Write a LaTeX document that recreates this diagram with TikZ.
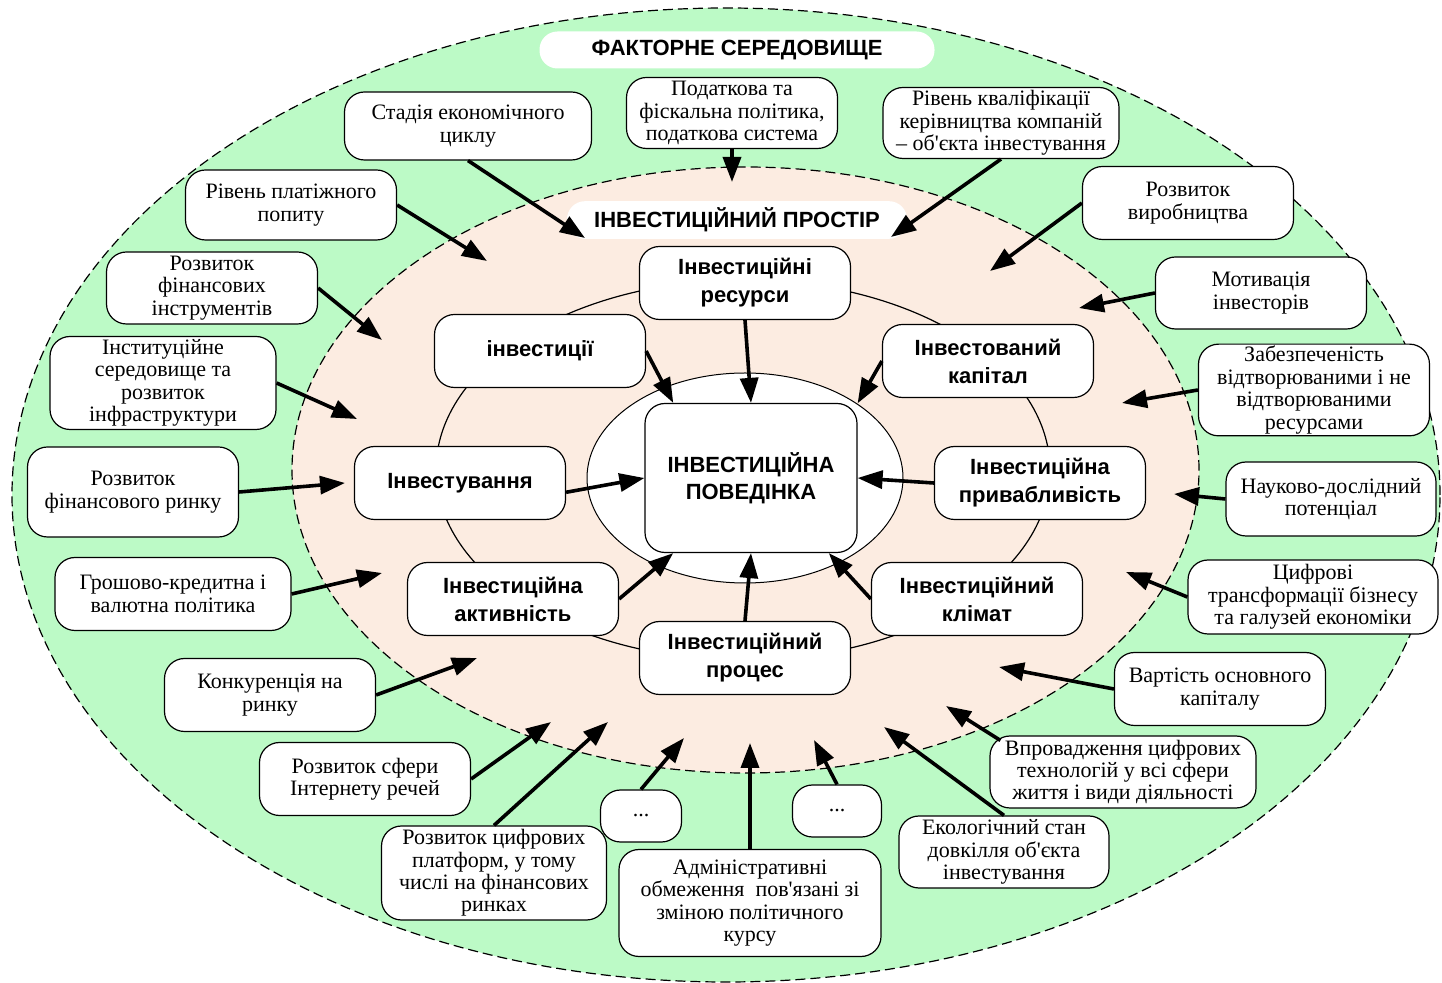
\documentclass[tikz,border=0pt]{standalone}
\usepackage{fontspec}
\setmainfont{Liberation Serif}
\setsansfont{Liberation Sans}
\usepackage{tikz}
\usepackage{xcolor}
\usetikzlibrary{arrows.meta, calc}

\definecolor{envgreen}{RGB}{188,250,198}
\definecolor{spacepeach}{RGB}{252,236,225}

\begin{document}
\begin{tikzpicture}[x=0.5pt, y=-0.5pt,
  factor/.style={draw, fill=white, rounded corners=10pt, line width=0.6pt, align=center, inner sep=1pt, font=\fontsize{11}{11.2}\selectfont},
  core/.style={draw, fill=white, rounded corners=10pt, line width=0.6pt, align=center, minimum width=105.5pt, minimum height=36.5pt, font=\fontsize{11}{14}\selectfont\sffamily\bfseries},
  heading/.style={fill=white, rounded corners=9pt, minimum height=18.5pt, font=\fontsize{11}{13}\selectfont\sffamily\bfseries},
  infl/.style={-{Triangle[length=12.5pt,width=9pt]}, line width=1.8pt},
  ring/.style={dash pattern=on 5pt off 2.5pt, line width=0.6pt}]
  \useasboundingbox (0,0) rectangle (1442,983);

  % Environment and space
  \fill[envgreen] (726,495) ellipse [x radius=357pt, y radius=243.5pt];
  \draw[ring] (726,495) ellipse [x radius=357pt, y radius=243.5pt];
  \fill[spacepeach] (745.5,470) ellipse [x radius=226.75pt, y radius=151.5pt];
  \draw[ring] (745.5,470) ellipse [x radius=226.75pt, y radius=151.5pt];
  \draw[line width=0.6pt] (743,470) ellipse [x radius=153.5pt, y radius=95pt];
  \draw[fill=white, line width=0.5pt] (745,478) ellipse [x radius=79pt, y radius=52.5pt];

  \node[heading, minimum width=197.5pt] (factorhead) at (737,50) {ФАКТОРНЕ СЕРЕДОВИЩЕ};
  \node[heading, minimum width=170pt] (spacehead) at (737,220) {ІНВЕСТИЦІЙНИЙ ПРОСТІР};

  % Factors
  \node[factor, minimum width=123.5pt, minimum height=34pt] (stadia) at (468,126) {Стадія економічного\\циклу};
  \node[factor, minimum width=105.5pt, minimum height=35.5pt] (podatk) at (732,113) {Податкова та\\фіскальна політика,\\податкова система};
  \node[factor, minimum width=118pt, minimum height=35.5pt] (kvalif) at (1001,123) {Рівень кваліфікації\\керівництва компаній\\– об\textquotesingle єкта інвестування};
  \node[factor, minimum width=105.5pt, minimum height=35pt] (platizh) at (291,205) {Рівень платіжного\\попиту};
  \node[factor, minimum width=105.5pt, minimum height=36.5pt] (vyrob) at (1188,203) {Розвиток\\виробництва};
  \node[factor, minimum width=105.5pt, minimum height=36pt] (fininstr) at (212,288) {Розвиток\\фінансових\\інструментів};
  \node[factor, minimum width=105.5pt, minimum height=36pt] (motyv) at (1261,293) {Мотивація\\інвесторів};
  \node[factor, minimum width=113pt, minimum height=46.5pt] (instyt) at (163,383) {Інституційне\\середовище та\\розвиток\\інфраструктури};
  \node[factor, minimum width=115.5pt, minimum height=45.5pt] (zabezp) at (1314,390) {Забезпеченість\\відтворюваними і не\\відтворюваними\\ресурсами};
  \node[factor, minimum width=105.5pt, minimum height=45pt] (finrynok) at (133,492) {Розвиток\\фінансового ринку};
  \node[factor, minimum width=105pt, minimum height=37pt] (nauka) at (1331,499) {Науково-дослідний\\потенціал};
  \node[factor, minimum width=118pt, minimum height=36.5pt] (groshi) at (173,594) {Грошово-кредитна і\\валютна політика};
  \node[factor, minimum width=125pt, minimum height=37pt] (tsyfr) at (1313,597) {Цифрові\\трансформації бізнесу\\та галузей економіки};
  \node[factor, minimum width=105.5pt, minimum height=36.5pt] (konkur) at (270,695) {Конкуренція на\\ринку};
  \node[factor, minimum width=105.5pt, minimum height=36.5pt] (vartist) at (1220,689) {Вартість основного\\капіталу};
  \node[factor, minimum width=105.5pt, minimum height=36.5pt] (iot) at (365,779) {Розвиток сфери\\Інтернету речей};
  \node[factor, minimum width=133pt, minimum height=36pt] (vprov) at (1123,772) {Впровадження цифрових\\технологій у всі сфери\\життя і види діяльності};
  \node[factor, minimum width=40.5pt, minimum height=26pt] (dotsL) at (641,816) {...};
  \node[factor, minimum width=44.5pt, minimum height=26pt] (dotsR) at (837,811) {...};
  \node[factor, minimum width=112.5pt, minimum height=47pt] (platform) at (494,873) {Розвиток цифрових\\платформ, у тому\\числі на фінансових\\ринках};
  \node[factor, minimum width=131pt, minimum height=53.5pt] (admin) at (750,903) {Адміністративні\\обмеження\ \ пов\textquotesingle язані зі\\зміною політичного\\курсу};
  \node[factor, minimum width=105pt, minimum height=36pt] (ekol) at (1004,852) {Екологічний стан\\довкілля об\textquotesingle єкта\\інвестування};

  % Where the factor arrows end
  \coordinate (tStadia) at (585,238);
  \coordinate (tPodatk) at (732,182);
  \coordinate (tKvalif) at (891,237);
  \coordinate (tPlatizh) at (487,261);
  \coordinate (tVyrob) at (990,271);
  \coordinate (tFininstr) at (382,340);
  \coordinate (tMotyv) at (1079,308);
  \coordinate (tInstyt) at (357,419);
  \coordinate (tZabezp) at (1122,403);
  \coordinate (tFinrynok) at (345,483);
  \coordinate (tNauka) at (1174,494);
  \coordinate (tGroshi) at (382,573);
  \coordinate (tTsyfr) at (1126,572);
  \coordinate (tKonkur) at (477,658);
  \coordinate (tVartist) at (999,667);
  \coordinate (tIot) at (551,722);
  \coordinate (tPlatform) at (608,722);
  \coordinate (tDotsL) at (684,738);
  \coordinate (tAdmin) at (750,743);
  \coordinate (tDotsR) at (814,740);
  \coordinate (tEkol) at (884,727);
  \coordinate (tVprov) at (946,706);

  \draw[infl] (stadia.south) -- (tStadia);
  \draw[infl] (podatk.south) -- (tPodatk);
  \draw[infl] (kvalif.south) -- (tKvalif);
  \draw[infl] (platizh.east) -- (tPlatizh);
  \draw[infl] (vyrob.west) -- (tVyrob);
  \draw[infl] (fininstr.east) -- (tFininstr);
  \draw[infl] (motyv.west) -- (tMotyv);
  \draw[infl] (instyt.east) -- (tInstyt);
  \draw[infl] (zabezp.west) -- (tZabezp);
  \draw[infl] (finrynok.east) -- (tFinrynok);
  \draw[infl] (nauka.west) -- (tNauka);
  \draw[infl] (groshi.east) -- (tGroshi);
  \draw[infl] (tsyfr.west) -- (tTsyfr);
  \draw[infl] (konkur.east) -- (tKonkur);
  \draw[infl] (vartist.west) -- (tVartist);
  \draw[infl] (iot.east) -- (tIot);
  \draw[infl] (platform.north) -- (tPlatform);
  \draw[infl] (dotsL.north) -- (tDotsL);
  \draw[infl] (admin.north) -- (tAdmin);
  \draw[infl] (dotsR.north) -- (tDotsR);
  \draw[infl] (ekol.north) -- (tEkol);
  \draw[infl] ($(vprov.north west)+(11,5)$) -- (tVprov);

  % Investment space
  \node[core] (resursy) at (745,283) {Інвестиційні\\ресурси};
  \node[core] (investytsii) at (540,351) {інвестиції};
  \node[core] (kapital) at (988,361) {Інвестований\\капітал};
  \node[core] (investuv) at (460,483) {Інвестування};
  \node[core] (pryvab) at (1040,483) {Інвестиційна\\привабливість};
  \node[core] (aktyvn) at (513,599) {Інвестиційна\\активність};
  \node[core] (klimat) at (977,599) {Інвестиційний\\клімат};
  \node[core] (protses) at (745,658) {Інвестиційний\\процес};
  \node[core, minimum width=106pt, minimum height=74.5pt, font=\fontsize{11}{13.5}\selectfont\sffamily\bfseries] (povedinka) at (751,478) {ІНВЕСТИЦІЙНА\\ПОВЕДІНКА};

  \draw[infl] (resursy.south) -- (povedinka.north);
  \draw[infl] (investytsii.east) -- (povedinka.136);
  \draw[infl] (kapital.west) -- (povedinka.35);
  \draw[infl] (investuv.355) -- (povedinka.west);
  \draw[infl] (pryvab.west) -- (povedinka.east);
  \draw[infl] (aktyvn.east) -- (povedinka.224);
  \draw[infl] (klimat.west) -- (povedinka.316);
  \draw[infl] (protses.north) -- (povedinka.south);
\end{tikzpicture}
\end{document}
